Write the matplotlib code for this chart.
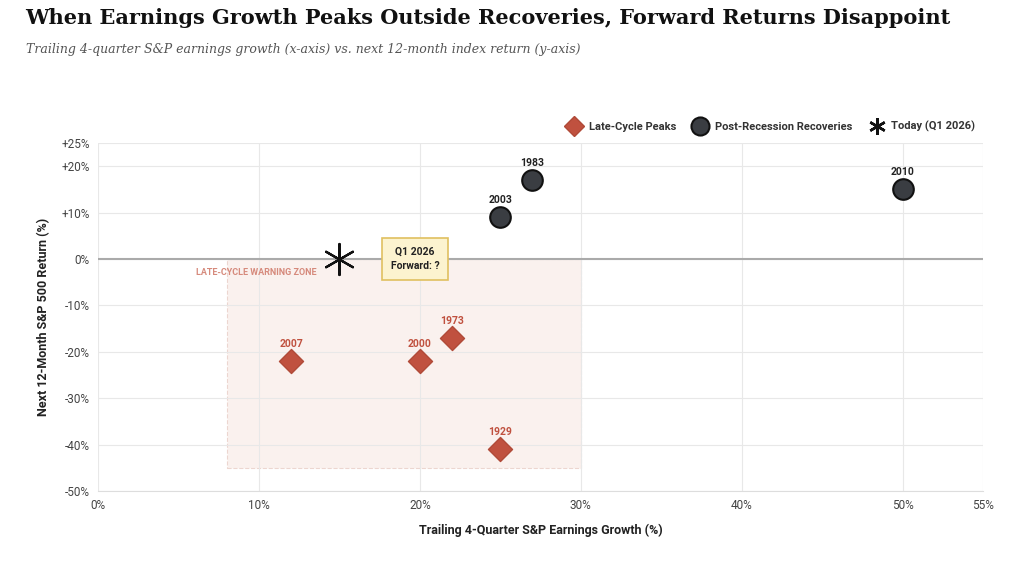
import matplotlib
matplotlib.use("Agg")
import matplotlib.pyplot as plt
from matplotlib.patches import Rectangle
from matplotlib.lines import Line2D

late_labels = ["2007", "2000", "1973", "1929"]
late_x = [12, 20, 22, 25]
late_y = [-22, -22, -17, -41]
rec_labels = ["2003", "1983", "2010"]
rec_x = [25, 27, 50]
rec_y = [9, 17, 15]
today_x, today_y = 15, 0
xticks = [0, 10, 20, 30, 40, 50, 55]
yticks = [25, 20, 10, 0, -10, -20, -30, -40, -50]

RED = "#c0513f"
DARK = "#3a3d42"
F = "Roboto"

fig = plt.figure(figsize=(10.24, 5.62), dpi=100)
ax = fig.add_axes([0.0957, 0.1263, 0.8643, 0.6193])
ax.set_xlim(0, 55)
ax.set_ylim(-50, 25)
ax.set_xticks(xticks)
ax.set_xticklabels([f"{t}%" for t in xticks], fontfamily=F, fontsize=8.5, color="#444")
ax.set_yticks(yticks)
ax.set_yticklabels([("+" if t > 0 else "") + f"{t}%" for t in yticks], fontfamily=F, fontsize=8.5, color="#444")
ax.tick_params(length=0, pad=6)
ax.grid(color="#e8e8e8", lw=0.8)
ax.set_axisbelow(True)
for s in ax.spines.values():
    s.set_visible(False)
ax.spines["bottom"].set_visible(True)
ax.spines["bottom"].set_color("#dddddd")
ax.axhline(0, color="#aaaaaa", lw=1.5, zorder=1)

ax.add_patch(Rectangle((8, -45), 22, 45, facecolor="#f9ece8", alpha=0.7,
                       edgecolor="#e6c8c0", ls="--", lw=0.8, zorder=0.5))
ax.text(6.1, -3, "LATE-CYCLE WARNING ZONE", fontfamily=F, fontsize=6.5, fontweight="bold",
        color="#d68a7c", va="center")

ax.scatter(late_x, late_y, marker="D", s=150, color=RED, edgecolor="#b04a38", zorder=3)
for l, x, y in zip(late_labels, late_x, late_y):
    ax.text(x, y + 2.6, l, ha="center", va="bottom", fontfamily=F, fontsize=7.5,
            fontweight="bold", color=RED)
ax.scatter(rec_x, rec_y, marker="o", s=220, color=DARK, edgecolor="#111", lw=1.5, zorder=3)
for l, x, y in zip(rec_labels, rec_x, rec_y):
    ax.text(x, y + 2.6, l, ha="center", va="bottom", fontfamily=F, fontsize=7.5,
            fontweight="bold", color="#222")
ax.scatter([today_x], [today_y], marker=(6, 2, 0), s=500, color="#111", lw=1.6, zorder=4)
ax.text(19.7, 0, "Q1 2026\nForward: ?", ha="center", va="center", fontfamily=F,
        fontsize=7.5, fontweight="bold", color="#222", linespacing=1.6,
        bbox=dict(boxstyle="square,pad=0.8", facecolor="#fcf3cf", edgecolor="#e0c060", lw=1.2), zorder=5)

ax.set_xlabel("Trailing 4-Quarter S&P Earnings Growth (%)", fontfamily=F, fontsize=9,
              fontweight="bold", color="#222", labelpad=8)
ax.set_ylabel("Next 12-Month S&P 500 Return (%)", fontfamily=F, fontsize=9,
              fontweight="bold", color="#222", labelpad=8)

handles = [
    Line2D([], [], marker="D", ls="", ms=10, color=RED, markeredgecolor="#b04a38"),
    Line2D([], [], marker="o", ls="", ms=13, color=DARK, markeredgecolor="#111", markeredgewidth=1.5),
    Line2D([], [], marker=(6, 2, 0), ls="", ms=12, color="#111", markeredgewidth=1.8),
]
fig.legend(handles, ["Late-Cycle Peaks", "Post-Recession Recoveries", "Today (Q1 2026)"],
           loc="center right", bbox_to_anchor=(0.962, 0.775), ncol=3, frameon=False,
           prop=dict(family=F, size=8, weight="bold"), labelcolor="#333",
           handletextpad=0.3, columnspacing=1.2)

fig.text(0.025, 0.968, "When Earnings Growth Peaks Outside Recoveries, Forward Returns Disappoint",
         fontfamily="DejaVu Serif", fontsize=15, fontweight="bold", color="#111", va="center")
fig.text(0.025, 0.912, "Trailing 4-quarter S&P earnings growth (x-axis) vs. next 12-month index return (y-axis)",
         fontfamily="DejaVu Serif", fontsize=9, style="italic", color="#555", va="center")

fig.savefig("out.png", dpi=100, facecolor="white")
